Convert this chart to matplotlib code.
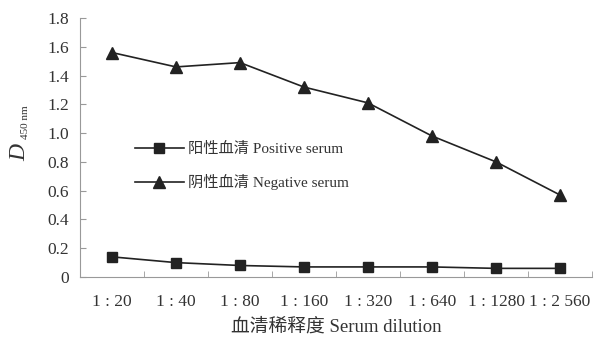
import matplotlib
matplotlib.use("Agg")
import matplotlib.pyplot as plt
import numpy as np

categories = ["1 : 20", "1 : 40", "1 : 80", "1 : 160", "1 : 320", "1 : 640", "1 : 1280", "1 : 2 560"]
positive = [0.14, 0.10, 0.08, 0.07, 0.07, 0.07, 0.06, 0.06]
negative = [1.56, 1.46, 1.49, 1.32, 1.21, 0.98, 0.80, 0.57]
yticks = [0, 0.2, 0.4, 0.6, 0.8, 1.0, 1.2, 1.4, 1.6, 1.8]
yticklabels = ["0", "0.2", "0.4", "0.6", "0.8", "1.0", "1.2", "1.4", "1.6", "1.8"]

plt.rcParams['font.family'] = ['Liberation Serif', 'Noto Sans CJK SC']

tc = '#333333'
fig = plt.figure(figsize=(6.14, 3.45), dpi=100)
ax = fig.add_axes([80/614, 1-277/345, 512/614, 259/345])
x = np.arange(len(categories))
ax.plot(x, positive, color='#222222', lw=1.2, marker='s', ms=7.5, label='阳性血清 Positive serum')
ax.plot(x, negative, color='#222222', lw=1.2, marker='^', ms=8.5, label='阴性血清 Negative serum')
ax.set_xlim(-0.5, len(categories) - 0.5)
ax.set_ylim(0, 1.8)
ax.set_yticks(yticks)
ax.set_yticklabels(yticklabels, fontsize=12.5, color=tc)
ax.set_xticks(x)
ax.set_xticklabels(categories, fontsize=12.5, color=tc)
ax.set_xticks(np.arange(-0.5, len(categories)), minor=True)
ax.tick_params(axis='x', which='major', length=0, pad=12)
ax.tick_params(axis='x', which='minor', direction='in', length=4, color='#999999')
ax.tick_params(axis='y', direction='in', length=4, color='#999999', pad=8)
for s in ['top', 'right']:
    ax.spines[s].set_visible(False)
for s in ['left', 'bottom']:
    ax.spines[s].set_color('#999999')
ax.set_xlabel('血清稀释度 Serum dilution', fontsize=13.5, color=tc, labelpad=6)
fig.text(20/614, 1-152/345, 'D', fontsize=17, style='italic', rotation=90,
         ha='center', va='center', color=tc)
fig.text(26/614, 1-122/345, '450 nm', fontsize=8, rotation=90,
         ha='center', va='center', color=tc)
leg = ax.legend(loc='upper left', bbox_to_anchor=(0.08, 0.575), frameon=False, fontsize=11,
                handlelength=3.2, labelspacing=1.2, handletextpad=0.3)
for t in leg.get_texts():
    t.set_color(tc)
fig.savefig('out.png', dpi=100, facecolor='white')
